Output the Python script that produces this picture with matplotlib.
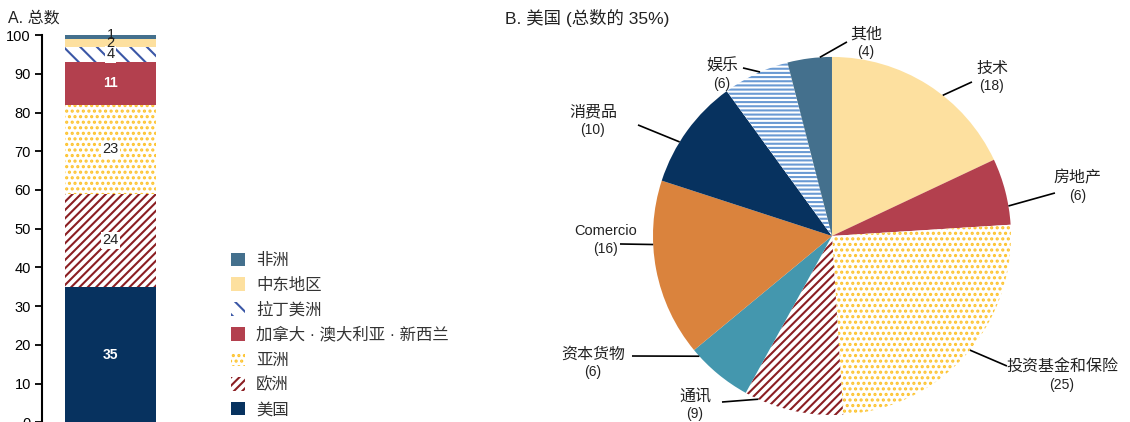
import numpy as np
import matplotlib
matplotlib.use('Agg')
import matplotlib.pyplot as plt

plt.rcParams['font.family'] = ['Liberation Sans', 'Noto Sans CJK SC', 'DejaVu Sans']
plt.rcParams['hatch.linewidth'] = 1.5

# Panel A: total by region (stacked bottom -> top)
regions = ['美国', '欧洲', '亚洲', '加拿大 · 澳大利亚 · 新西兰', '拉丁美洲', '中东地区', '非洲']
region_values = [35, 24, 23, 11, 4, 2, 1]

# Panel B: US by sector (clockwise from top)
sectors = ['技术', '房地产', '投资基金和保险', '通讯', '资本货物', 'Comercio', '消费品', '娱乐', '其他']
sector_values = [18, 6, 25, 9, 6, 16, 10, 6, 4]

# styles: (facecolor, hatchcolor, hatch)
region_styles = [
    ('#07325f', None, None),
    ('white', '#8b1e22', '////'),
    ('white', '#fdc32e', '...'),
    ('#b3404e', None, None),
    ('white', '#3b57a6', '\\\\'),
    ('#fde09f', None, None),
    ('#44708d', None, None),
]
sector_styles = [
    ('#fde09f', None, None),
    ('#b3404e', None, None),
    ('white', '#fdc32e', '...'),
    ('white', '#8b1e22', '////'),
    ('#4497ae', None, None),
    ('#da833d', None, None),
    ('#07325f', None, None),
    ('white', '#6a9ad3', '----'),
    ('#44708d', None, None),
]

fig = plt.figure(figsize=(11.3, 4.22), dpi=100)

# ---------- Panel A ----------
ax1 = fig.add_axes([42 / 1130, -0.001, 160 / 1130, 0.918])
bottom = 0
bars = []
for name, val, (fc, hc, h) in zip(regions, region_values, region_styles):
    b = ax1.bar(0.43, val, width=0.57, bottom=bottom, color=fc,
                edgecolor=hc if hc else fc, hatch=h, linewidth=0, label=name)
    bars.append(b)
    bottom += val

bottom = 0
for i, val in enumerate(region_values):
    y = bottom + val / 2
    fc = region_styles[i][0]
    if fc in ('#07325f', '#b3404e'):
        ax1.text(0.43, y, str(val), ha='center', va='center', color='white',
                 fontsize=10, fontweight='bold')
    elif val >= 4:
        ax1.text(0.43, y, str(val), ha='center', va='center', color='#222222', fontsize=10.5,
                 bbox=dict(boxstyle='square,pad=0.1', fc='white', ec='none'))
    else:
        ax1.text(0.43, y + (0.6 if val == 1 else 0), str(val), ha='center', va='center',
                 color='#222222', fontsize=10.5)
    bottom += val

ax1.set_xlim(0, 1)
ax1.set_ylim(0, 100)
ax1.set_yticks(np.arange(0, 101, 10))
ax1.tick_params(axis='y', labelsize=10.5, length=5, width=1.3, direction='out', pad=3)
ax1.set_xticks([])
for s in ['top', 'right', 'bottom']:
    ax1.spines[s].set_visible(False)
ax1.spines['left'].set_linewidth(1.5)

fig.text(8 / 1130, 1 - 18 / 422, 'A. 总数', fontsize=11.5, ha='left', va='center', color='#222222')

leg = fig.legend(handles=bars[::-1], labels=regions[::-1], loc='upper left',
                 bbox_to_anchor=(224 / 1130, 1 - 246 / 422), frameon=False,
                 fontsize=11.8, handlelength=0.9, handleheight=0.9,
                 labelspacing=0.57, handletextpad=0.65, borderaxespad=0)
for t in leg.get_texts():
    t.set_color('#333333')

# ---------- Panel B ----------
ax2 = fig.add_axes([508 / 1130, 0, 622 / 1130, 1])
wedges, _ = ax2.pie(sector_values, startangle=90, counterclock=False, radius=1,
                    wedgeprops=dict(linewidth=0))
for w, (fc, hc, h) in zip(wedges, sector_styles):
    w.set_facecolor(fc)
    if h:
        w.set_edgecolor(hc)
        w.set_hatch(h)
    w.set_linewidth(0)

ax2.set_xlim(-1.81, 1.665)
ax2.set_ylim(-1.039, 1.318)
ax2.set_aspect('auto')
ax2.axis('off')


def to_data(px, py):
    return (px - 832) / 179, (236 - py) / 179


# label layout (pixels): text centre, leader start next to the text,
# and where the leader meets the wedge (fraction along the wedge)
label_px = [(992, 77), (1078, 187), (1062, 376), (695, 405), (593, 363),
            (606, 240), (593, 121), (722, 75), (866, 43)]
leader_px = [(972, 82), (1055, 193), (1007, 366), (722, 402), (632, 356),
             (620, 244), (638, 125), (743, 68), (847, 42)]
leader_frac = [0.59, 0.72, 0.48, 0.86, 0.88, 0.64, 0.38, 0.57, 0.73]

cum = np.concatenate([[0], np.cumsum(sector_values)]) / np.sum(sector_values)
for i, (name, val) in enumerate(zip(sectors, sector_values)):
    pct = cum[i] + leader_frac[i] * (cum[i + 1] - cum[i])
    ang = np.deg2rad(90 - 360 * pct)
    rx, ry = np.cos(ang), np.sin(ang)
    lx, ly = to_data(*leader_px[i])
    ax2.plot([lx, rx], [ly, ry], color='black', lw=1.2, solid_capstyle='butt')
    tx, ty = to_data(*label_px[i])
    fs = 10.5 if name == 'Comercio' else 11.5
    ax2.text(tx, ty + 0.05, name, ha='center', va='center', fontsize=fs, color='#222222')
    ax2.text(tx, ty - 0.05, f'({val})', ha='center', va='center', fontsize=10, color='#222222')

fig.text(505 / 1130, 1 - 18 / 422, 'B. 美国 (总数的 35%)', fontsize=12.5, ha='left',
         va='center', color='#222222')

fig.savefig('out.png', dpi=100)
